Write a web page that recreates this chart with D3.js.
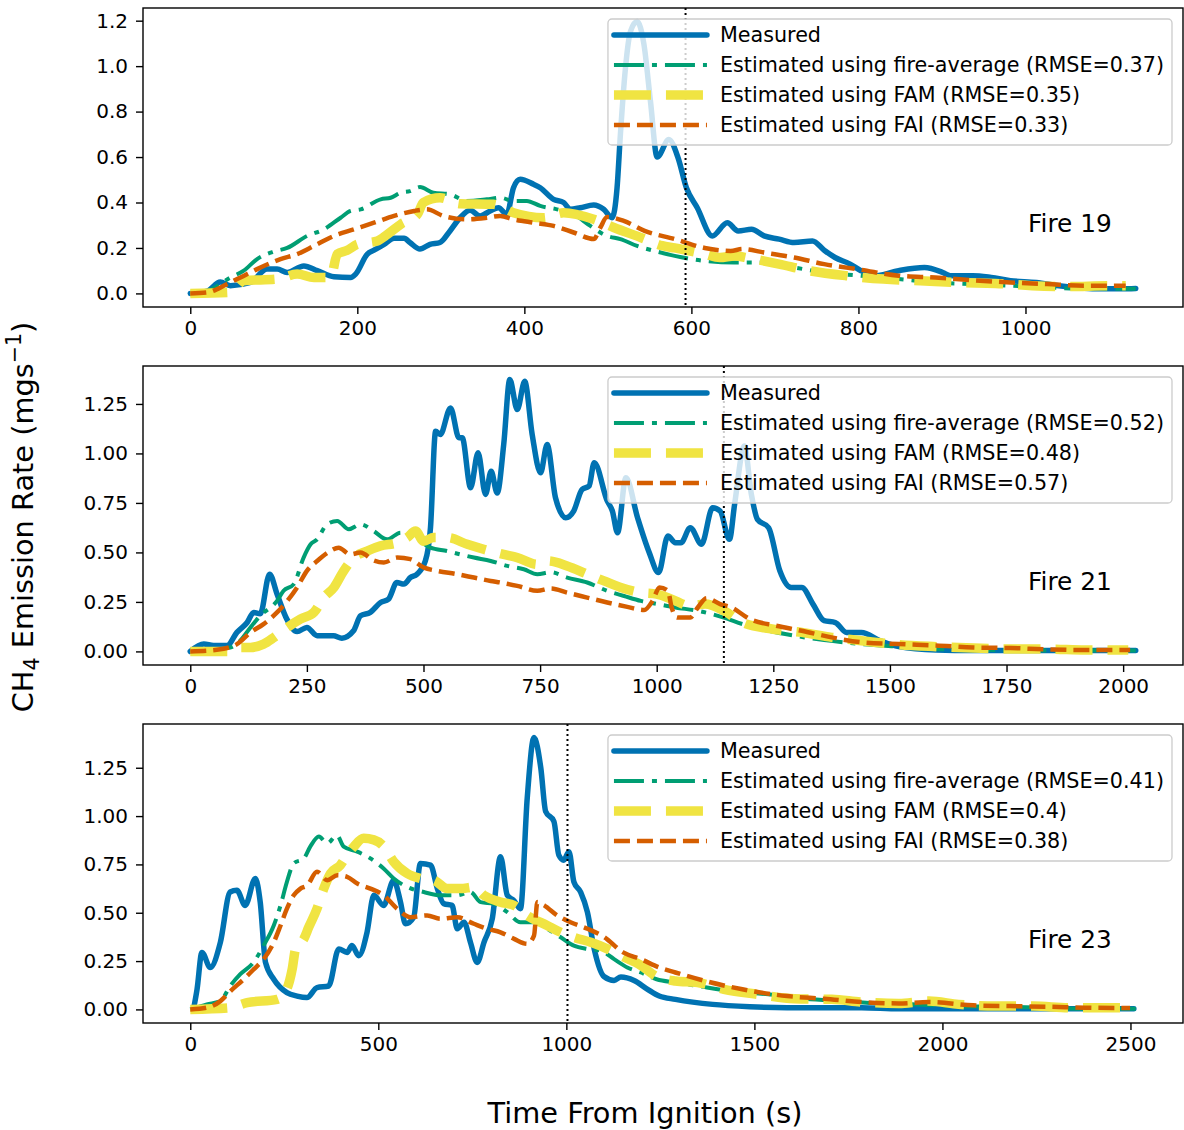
<!DOCTYPE html>
<html>
<head>
<meta charset="utf-8">
<script src="https://cdn.jsdelivr.net/npm/d3@7"></script>
<style>
  body { margin: 0; background: #fff; }
  svg { display: block; font-family: "DejaVu Sans", sans-serif; }
</style>
</head>
<body>
<div id="chart"></div>
<script>
//Datos: [tiempo (s), emisión CH4 (mg/s)]
const fire19Measured = [[0,0],[20,0.01],[36,0.05],[48,0.034],[72,0.048],[92,0.107],[104,0.107],[116,0.092],[136,0.121],[152,0.10],[172,0.073],[192,0.07],[198,0.085],[212,0.173],[220,0.19],[232,0.216],[244,0.243],[256,0.243],[263,0.224],[275,0.195],[287,0.216],[299,0.224],[311,0.275],[323,0.333],[335,0.366],[347,0.341],[359,0.363],[369,0.377],[379,0.348],[387,0.465],[395,0.502],[411,0.48],[419,0.465],[435,0.414],[447,0.40],[455,0.37],[467,0.377],[483,0.389],[495,0.37],[505,0.333],[511,0.465],[515,0.70],[521,0.99],[527,1.152],[535,1.196],[543,1.10],[551,0.845],[559,0.60],[573,0.677],[584,0.597],[594,0.465],[607,0.377],[625,0.253],[643,0.311],[656,0.275],[672,0.282],[687,0.253],[705,0.239],[723,0.224],[745,0.231],[759,0.19],[772,0.158],[790,0.129],[803,0.10],[821,0.078],[848,0.10],[879,0.114],[901,0.092],[910,0.078],[937,0.078],[959,0.07],[982,0.056],[1013,0.048],[1040,0.034],[1066,0.024],[1093,0.02],[1115,0.02],[1132,0.022]];
const fire19Average = [[0,0],[20,0.01],[48,0.07],[64,0.10],[80,0.151],[100,0.184],[116,0.20],[140,0.253],[160,0.282],[180,0.333],[192,0.363],[204,0.37],[228,0.414],[240,0.421],[252,0.443],[263,0.45],[275,0.468],[291,0.443],[311,0.436],[331,0.407],[355,0.414],[371,0.421],[387,0.407],[403,0.407],[419,0.385],[439,0.37],[459,0.348],[479,0.297],[499,0.253],[515,0.239],[535,0.209],[559,0.184],[580,0.165],[616,0.143],[651,0.136],[687,0.136],[723,0.114],[759,0.092],[803,0.078],[848,0.063],[892,0.048],[937,0.041],[982,0.034],[1026,0.027],[1071,0.02],[1132,0.02]];
const fire19Fam = [[0,0],[48,0.005],[64,0.056],[104,0.063],[128,0.085],[148,0.07],[168,0.07],[176,0.173],[188,0.19],[200,0.216],[224,0.231],[236,0.26],[252,0.304],[272,0.348],[279,0.40],[299,0.421],[323,0.395],[363,0.392],[387,0.355],[423,0.333],[447,0.355],[483,0.326],[507,0.29],[540,0.245],[565,0.21],[580,0.2],[616,0.173],[634,0.158],[652,0.165],[669,0.155],[705,0.129],[741,0.10],[785,0.078],[830,0.063],[874,0.056],[919,0.048],[964,0.044],[1008,0.034],[1053,0.03],[1098,0.034],[1120,0.034]];
const fire19Fai = [[0,0],[20,0.004],[44,0.041],[60,0.07],[80,0.107],[108,0.151],[128,0.173],[148,0.209],[172,0.253],[196,0.282],[220,0.311],[244,0.341],[268,0.363],[283,0.37],[303,0.341],[331,0.326],[355,0.333],[371,0.341],[387,0.326],[411,0.311],[435,0.297],[459,0.268],[483,0.239],[491,0.29],[499,0.336],[519,0.319],[544,0.275],[580,0.239],[616,0.2],[647,0.187],[661,0.195],[687,0.18],[723,0.158],[759,0.129],[803,0.104],[848,0.078],[892,0.07],[937,0.058],[982,0.048],[1026,0.041],[1071,0.034],[1120,0.034]];

const fire21Measured = [[0,0],[29,0.037],[50,0.03],[79,0.03],[100,0.096],[122,0.146],[136,0.197],[150,0.19],[170,0.39],[186,0.29],[207,0.163],[229,0.10],[250,0.121],[272,0.079],[307,0.079],[325,0.067],[350,0.104],[365,0.18],[386,0.197],[408,0.247],[425,0.264],[443,0.348],[458,0.34],[472,0.373],[486,0.39],[504,0.457],[515,0.625],[526,1.112],[536,1.096],[558,1.23],[576,1.079],[583,1.079],[601,0.827],[617,1.003],[633,0.793],[645,0.91],[658,0.80],[672,1.045],[685,1.373],[701,1.222],[717,1.364],[733,1.096],[751,0.902],[765,1.045],[783,0.776],[805,0.675],[822,0.709],[840,0.818],[855,0.835],[866,0.953],[894,0.76],[905,0.709],[916,0.60],[934,0.877],[959,0.675],[984,0.499],[1004,0.398],[1024,0.583],[1040,0.549],[1052,0.549],[1072,0.625],[1096,0.541],[1120,0.726],[1136,0.709],[1156,0.566],[1167,0.743],[1188,1.037],[1203,0.793],[1216,0.667],[1240,0.625],[1264,0.407],[1288,0.323],[1311,0.323],[1335,0.239],[1359,0.155],[1383,0.146],[1407,0.096],[1439,0.096],[1479,0.054],[1519,0.024],[1599,0.007],[1679,0.004],[1839,0.004],[2027,0.004]];
const fire21Average = [[0,0],[86,0.02],[107,0.054],[129,0.121],[150,0.18],[186,0.255],[200,0.306],[222,0.34],[243,0.474],[258,0.541],[272,0.566],[293,0.642],[315,0.659],[340,0.617],[365,0.642],[393,0.608],[422,0.566],[451,0.60],[487,0.566],[515,0.524],[551,0.507],[579,0.49],[608,0.474],[644,0.457],[680,0.432],[715,0.415],[744,0.39],[773,0.40],[808,0.373],[851,0.348],[894,0.306],[930,0.28],[966,0.255],[1002,0.239],[1040,0.222],[1088,0.205],[1144,0.171],[1184,0.138],[1240,0.104],[1296,0.079],[1359,0.057],[1439,0.037],[1519,0.024],[1599,0.012],[1759,0.007],[1919,0.004],[2027,0.004]];
const fire21Fam = [[0,0],[82,0],[100,0.02],[129,0.02],[157,0.037],[179,0.07],[208,0.121],[236,0.163],[265,0.197],[286,0.272],[308,0.323],[329,0.407],[351,0.474],[379,0.507],[408,0.533],[444,0.549],[465,0.575],[483,0.608],[500,0.557],[522,0.575],[551,0.575],[594,0.541],[629,0.516],[672,0.49],[701,0.474],[744,0.44],[766,0.457],[808,0.432],[851,0.39],[887,0.356],[923,0.323],[966,0.297],[1000,0.289],[1032,0.264],[1072,0.23],[1104,0.239],[1144,0.205],[1184,0.146],[1247,0.113],[1311,0.096],[1375,0.071],[1439,0.054],[1519,0.034],[1599,0.024],[1679,0.017],[1759,0.012],[1839,0.012],[1919,0.007],[2011,0.007]];
const fire21Fai = [[0,0],[57,0.008],[100,0.037],[129,0.096],[157,0.138],[186,0.197],[208,0.255],[229,0.323],[250,0.407],[272,0.457],[300,0.507],[318,0.524],[343,0.49],[365,0.499],[393,0.46],[415,0.449],[444,0.474],[472,0.466],[501,0.423],[529,0.407],[572,0.39],[608,0.373],[644,0.356],[665,0.348],[701,0.331],[744,0.306],[773,0.318],[808,0.297],[851,0.272],[894,0.247],[937,0.225],[973,0.209],[991,0.255],[1006,0.323],[1024,0.306],[1032,0.222],[1044,0.171],[1072,0.171],[1088,0.222],[1107,0.269],[1136,0.239],[1160,0.222],[1200,0.163],[1256,0.13],[1311,0.104],[1375,0.071],[1439,0.046],[1519,0.037],[1599,0.03],[1679,0.02],[1759,0.017],[1839,0.01],[1919,0.007],[2015,0.007]];

const fire23Measured = [[9,0.005],[18,0.104],[31,0.295],[53,0.217],[80,0.347],[106,0.607],[124,0.616],[146,0.538],[173,0.677],[186,0.555],[200,0.243],[222,0.156],[257,0.087],[284,0.069],[310,0.061],[337,0.113],[368,0.121],[395,0.313],[417,0.295],[430,0.33],[448,0.278],[470,0.399],[488,0.59],[514,0.538],[541,0.668],[559,0.555],[572,0.443],[594,0.477],[612,0.755],[639,0.746],[657,0.625],[674,0.547],[696,0.538],[710,0.417],[728,0.451],[745,0.347],[763,0.243],[781,0.347],[803,0.469],[825,0.79],[843,0.59],[860,0.564],[878,0.521],[896,1.094],[914,1.406],[932,1.25],[945,1.024],[967,0.972],[980,0.798],[993,0.772],[1007,0.816],[1020,0.66],[1038,0.607],[1056,0.503],[1074,0.313],[1100,0.17],[1127,0.15],[1145,0.168],[1180,0.15],[1216,0.104],[1247,0.069],[1290,0.052],[1389,0.026],[1488,0.014],[1587,0.009],[1785,0.009],[1884,0.003],[2509,0.003]];
const fire23Average = [[0,0],[44,0.026],[80,0.043],[106,0.121],[133,0.182],[168,0.243],[195,0.33],[222,0.434],[240,0.538],[257,0.66],[275,0.755],[302,0.781],[319,0.842],[342,0.894],[364,0.859],[390,0.90],[408,0.842],[444,0.816],[479,0.781],[514,0.729],[541,0.677],[577,0.633],[621,0.607],[665,0.59],[710,0.59],[745,0.607],[772,0.555],[807,0.547],[843,0.503],[878,0.451],[914,0.451],[949,0.417],[985,0.373],[1020,0.33],[1056,0.313],[1091,0.304],[1127,0.26],[1162,0.217],[1198,0.191],[1240,0.156],[1290,0.139],[1349,0.121],[1438,0.095],[1537,0.078],[1636,0.055],[1735,0.043],[1835,0.031],[1934,0.026],[2033,0.017],[2132,0.014],[2281,0.009],[2380,0.003],[2514,0.003]];
const fire23Fam = [[0,0],[102,0.008],[151,0.035],[231,0.052],[257,0.107],[271,0.208],[280,0.313],[302,0.365],[315,0.425],[337,0.521],[355,0.625],[373,0.703],[399,0.746],[417,0.798],[435,0.842],[461,0.885],[488,0.877],[515,0.842],[541,0.764],[577,0.703],[612,0.677],[648,0.668],[683,0.625],[719,0.625],[754,0.633],[781,0.59],[825,0.555],[861,0.538],[896,0.486],[949,0.434],[985,0.399],[1020,0.373],[1065,0.347],[1109,0.313],[1145,0.278],[1198,0.228],[1240,0.17],[1290,0.147],[1349,0.139],[1419,0.104],[1508,0.078],[1607,0.055],[1706,0.052],[1785,0.038],[1884,0.031],[1964,0.043],[2043,0.026],[2142,0.017],[2241,0.017],[2340,0.009],[2494,0.009]];
const fire23Fai = [[0,0],[44,0.009],[80,0.043],[107,0.095],[142,0.156],[169,0.208],[195,0.26],[222,0.347],[240,0.434],[257,0.521],[275,0.59],[293,0.625],[311,0.642],[337,0.712],[364,0.668],[391,0.694],[417,0.686],[444,0.651],[479,0.625],[515,0.59],[550,0.521],[586,0.477],[630,0.486],[665,0.469],[710,0.477],[754,0.443],[790,0.417],[825,0.399],[861,0.365],[896,0.339],[914,0.382],[923,0.555],[941,0.538],[976,0.486],[1011,0.451],[1056,0.417],[1100,0.375],[1151,0.295],[1198,0.26],[1247,0.217],[1290,0.191],[1369,0.147],[1468,0.104],[1587,0.069],[1686,0.055],[1785,0.038],[1884,0.031],[1964,0.038],[2082,0.021],[2181,0.017],[2281,0.014],[2380,0.009],[2499,0.007]];

//Otros valores
const fireNames = ['Fire 19', 'Fire 21', 'Fire 23'];
const ignitionMarks = [593, 1144, 1003];
const rmseValues = [['0.37','0.35','0.33'], ['0.52','0.48','0.57'], ['0.41','0.4','0.38']];
const xTickValues = [d3.range(0, 1001, 200), d3.range(0, 2001, 250), d3.range(0, 2501, 500)];
const yTickValues = [d3.range(0, 7).map(d => d * 0.2), d3.range(0, 6).map(d => d * 0.25), d3.range(0, 6).map(d => d * 0.25)];
const yTickFormats = ['.1f', '.2f', '.2f'];

//Colores fijos
const COLOR_MEASURED = '#0072B2',
COLOR_AVERAGE = '#009E73',
COLOR_FAM = '#F0E442',
COLOR_FAI = '#D55E00';

const seriesStyles = [
    { label: () => 'Measured', color: COLOR_MEASURED, width: 5.5, dash: null },
    { label: r => 'Estimated using fire-average (RMSE=' + r + ')', color: COLOR_AVERAGE, width: 4, dash: '30,8,5,8' },
    { label: r => 'Estimated using FAM (RMSE=' + r + ')', color: COLOR_FAM, width: 9.5, dash: '37,15' },
    { label: r => 'Estimated using FAI (RMSE=' + r + ')', color: COLOR_FAI, width: 4.5, dash: '16,7' }
];

const panelData = [
    [fire19Measured, fire19Average, fire19Fam, fire19Fai],
    [fire21Measured, fire21Average, fire21Fam, fire21Fai],
    [fire23Measured, fire23Average, fire23Fam, fire23Fai]
];

const W = 1184, H = 1130;
const margin = { left: 143, right: 1, top: 8 },
    panelWidth = 1040,
    panelHeight = 299,
    panelStep = 358;

const svg = d3.select('#chart').append('svg')
    .attr('width', W)
    .attr('height', H);

svg.append('rect').attr('width', W).attr('height', H).attr('fill', '#fff');

panelData.forEach(function(series, i) {
    const g = svg.append('g')
        .attr('transform', 'translate(' + margin.left + ',' + (margin.top + i * panelStep) + ')');

    //Escalas con el margen automático del 5%
    const allPts = series.flat();
    const xMax = d3.max(allPts, d => d[0]), xMin = d3.min(allPts, d => d[0]);
    const yMax = d3.max(allPts, d => d[1]), yMin = d3.min(allPts, d => d[1]);
    const xPad = (xMax - xMin) * 0.05, yPad = (yMax - yMin) * 0.05;

    const x = d3.scaleLinear().domain([xMin - xPad, xMax + xPad]).range([0, panelWidth]);
    const y = d3.scaleLinear().domain([yMin - yPad, yMax + yPad]).range([panelHeight, 0]);

    //Ejes
    const xAxis = g.append('g')
        .attr('transform', 'translate(0,' + panelHeight + ')')
        .call(d3.axisBottom(x).tickValues(xTickValues[i]).tickSize(7).tickPadding(7).tickFormat(d3.format('d')));
    const yAxis = g.append('g')
        .call(d3.axisLeft(y).tickValues(yTickValues[i]).tickSize(7).tickPadding(8).tickFormat(d3.format(yTickFormats[i])));

    [xAxis, yAxis].forEach(function(ax) {
        ax.attr('font-family', '"DejaVu Sans", sans-serif').attr('font-size', 20);
        ax.select('.domain').remove();
        ax.selectAll('line').attr('stroke', '#000').attr('stroke-width', 1.4);
        ax.selectAll('text').attr('fill', '#000');
    });

    //Líneas
    const line = d3.line()
        .x(d => x(d[0]))
        .y(d => y(d[1]))
        .curve(d3.curveMonotoneX);

    series.forEach(function(s, k) {
        const st = seriesStyles[k];
        g.append('path')
            .datum(s)
            .attr('d', line)
            .attr('fill', 'none')
            .attr('stroke', st.color)
            .attr('stroke-width', st.width)
            .attr('stroke-linejoin', 'round')
            .attr('stroke-linecap', st.dash ? 'butt' : 'round')
            .attr('stroke-dasharray', st.dash);
    });

    //Línea vertical punteada
    g.append('line')
        .attr('x1', x(ignitionMarks[i])).attr('x2', x(ignitionMarks[i]))
        .attr('y1', 0).attr('y2', panelHeight)
        .attr('stroke', '#000')
        .attr('stroke-width', 2)
        .attr('stroke-dasharray', '2,3');

    //Marco
    g.append('rect')
        .attr('width', panelWidth).attr('height', panelHeight)
        .attr('fill', 'none').attr('stroke', '#000').attr('stroke-width', 1.4);

    //Texto del incendio
    g.append('text')
        .attr('x', panelWidth * 0.851)
        .attr('y', panelHeight * 0.748)
        .attr('font-size', 24.8)
        .attr('fill', '#000')
        .text(fireNames[i]);

    //Leyenda
    const leg = g.append('g');
    const box = leg.append('rect');
    const rowH = 30;
    let maxW = 0;
    seriesStyles.forEach(function(st, k) {
        const cy = 16 + k * rowH;
        leg.append('line')
            .attr('x1', 6).attr('x2', 99)
            .attr('y1', cy).attr('y2', cy)
            .attr('stroke', st.color)
            .attr('stroke-width', st.width)
            .attr('stroke-linecap', st.dash ? 'butt' : 'round')
            .attr('stroke-dasharray', st.dash);
        const t = leg.append('text')
            .attr('x', 112)
            .attr('y', cy)
            .attr('dy', '0.36em')
            .attr('font-size', 20.7)
            .attr('fill', '#000')
            .text(st.label(rmseValues[i][k - 1]));
        maxW = Math.max(maxW, t.node().getComputedTextLength());
    });
    const boxW = 112 + maxW + 8, boxH = 126;
    box.attr('width', boxW).attr('height', boxH)
        .attr('rx', 4)
        .attr('fill', '#fff').attr('fill-opacity', 0.8)
        .attr('stroke', '#cccccc').attr('stroke-width', 1.3);
    leg.attr('transform', 'translate(' + (panelWidth - 11 - boxW) + ',11)');
});

//Títulos de ejes
svg.append('text')
    .attr('x', 645)
    .attr('y', 1123)
    .attr('text-anchor', 'middle')
    .attr('font-size', 28.8)
    .attr('fill', '#000')
    .text('Time From Ignition (s)');

const yLabel = svg.append('text')
    .attr('transform', 'translate(33,517) rotate(-90)')
    .attr('text-anchor', 'middle')
    .attr('font-size', 28.8)
    .attr('fill', '#000');
yLabel.append('tspan').text('CH');
yLabel.append('tspan').attr('font-size', 20.5).attr('dy', 6).text('4');
yLabel.append('tspan').attr('dy', -6).text(' Emission Rate (mgs');
yLabel.append('tspan').attr('font-size', 20.5).attr('dy', -12).text('\u22121');
yLabel.append('tspan').attr('dy', 12).text(')');
</script>
</body>
</html>
